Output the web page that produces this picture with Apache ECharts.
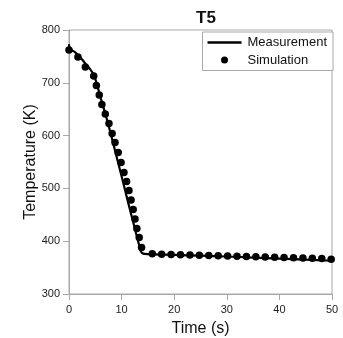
<!DOCTYPE html>
<html><head><meta charset="utf-8">
<script src="https://cdn.jsdelivr.net/npm/echarts@6/dist/echarts.min.js"></script>
<style>html,body{margin:0;padding:0;background:#fff}#c{width:343px;height:338px}</style>
</head><body><div id="c"></div>
<script>
var titleText = "T5";
var xTicks = [0, 10, 20, 30, 40, 50];
var yTicks = [300, 400, 500, 600, 700, 800];
var measTime = [0,0.15,0.6,1,1.8,2.5,3.3,4,4.6,5.2,6,7,8,9,10,11,12,12.6,13.0,13.4,13.7,14.1,15,20,25,30,35,40,45,50];
var measTemp = [773,764,761,759,752,744,734,726,717,701,672,638,601,562,523,483,444,421,405,390,380,376.5,375.5,374,372.5,371,369,367,365,363];
var simTime = [0,1.7,3.1,4.7,5.2,5.75,6.25,6.9,7.6,8.2,8.75,9.35,9.9,10.45,10.95,11.4,11.8,12.2,12.55,12.9,13.35,13.8,15.83,17.62,19.41,21.2,22.99,24.78,26.57,28.36,30.15,31.94,33.73,35.52,37.31,39.1,40.89,42.68,44.47,46.26,48.05,49.84];
var simTemp = [762,749,730,713,695,677,659,641,623,604,587,568,549,530,513,496,478,460,442,424,407,388,376,375.5,375,374.5,374,373.5,373,372.5,372,371.5,371,370.5,370,369.5,369,368.5,368,367.5,367,366];

var meas = measTime.map(function(t,i){return [t, measTemp[i]];});
var sim = simTime.map(function(t,i){return [t, simTemp[i]];});
var axisCol = '#a8a8a8';
var font = 'Liberation Sans, Arial, sans-serif';
var chart = echarts.init(document.getElementById('c'));
chart.setOption({
  animation: false,
  title: {text: titleText, left: 201, top: 5, textAlign: 'center',
    textStyle: {fontFamily: font, fontSize: 17, fontWeight: 'bold', color: '#111'}},
  grid: {left: 69, right: 11, top: 30, bottom: 44, outerBoundsMode: 'none', containLabel: false,
    show: true, borderColor: axisCol, borderWidth: 1, backgroundColor: 'transparent'},
  legend: {
    orient: 'vertical', right: 10, top: 32,
    backgroundColor: '#fff', borderColor: axisCol, borderWidth: 1, borderRadius: 0,
    padding: [4, 6, 4, 5], itemGap: 4.5, itemWidth: 34, itemHeight: 7,
    textStyle: {fontFamily: font, fontSize: 13, color: '#111', padding: [0,0,0,1]},
    data: [
      {name: 'Measurement', icon: 'path://M0,0L34,0L34,2.4L0,2.4Z', itemStyle: {color: '#000', opacity: 1}},
      {name: 'Simulation', icon: 'circle', itemStyle: {color: '#000', opacity: 1}}
    ]
  },
  xAxis: {
    type: 'value', min: 0, max: 50, interval: 10,
    name: 'Time (s)', nameLocation: 'middle', nameGap: 27, nameMoveOverlap: false,
    nameTextStyle: {fontFamily: font, fontSize: 16, color: '#111'},
    axisLine: {show: true, onZero: false, lineStyle: {color: axisCol, width: 1}},
    axisTick: {show: true, length: 6, lineStyle: {color: axisCol}},
    axisLabel: {fontFamily: font, fontSize: 11, color: '#222', margin: 10,
      formatter: function(v){return xTicks.indexOf(v) >= 0 ? String(v) : '';}},
    splitLine: {show: false}
  },
  yAxis: {
    type: 'value', min: 300, max: 800, interval: 100,
    name: 'Temperature (K)', nameLocation: 'middle', nameGap: 30, nameMoveOverlap: false,
    nameTextStyle: {fontFamily: font, fontSize: 16, color: '#111'},
    axisLine: {show: true, onZero: false, lineStyle: {color: axisCol, width: 1}},
    axisTick: {show: true, length: 6, lineStyle: {color: axisCol}},
    axisLabel: {fontFamily: font, fontSize: 11, color: '#222', margin: 9,
      formatter: function(v){return yTicks.indexOf(v) >= 0 ? String(v) : '';}},
    splitLine: {show: false}
  },
  series: [
    {name: 'Measurement', type: 'line', data: meas, symbol: 'none', smooth: 0.3,
      lineStyle: {color: '#000', width: 2.2}, z: 2},
    {name: 'Simulation', type: 'scatter', data: sim, symbol: 'circle', symbolSize: 7.5,
      itemStyle: {color: '#000', opacity: 1}, z: 3}
  ]
});
</script></body></html>
